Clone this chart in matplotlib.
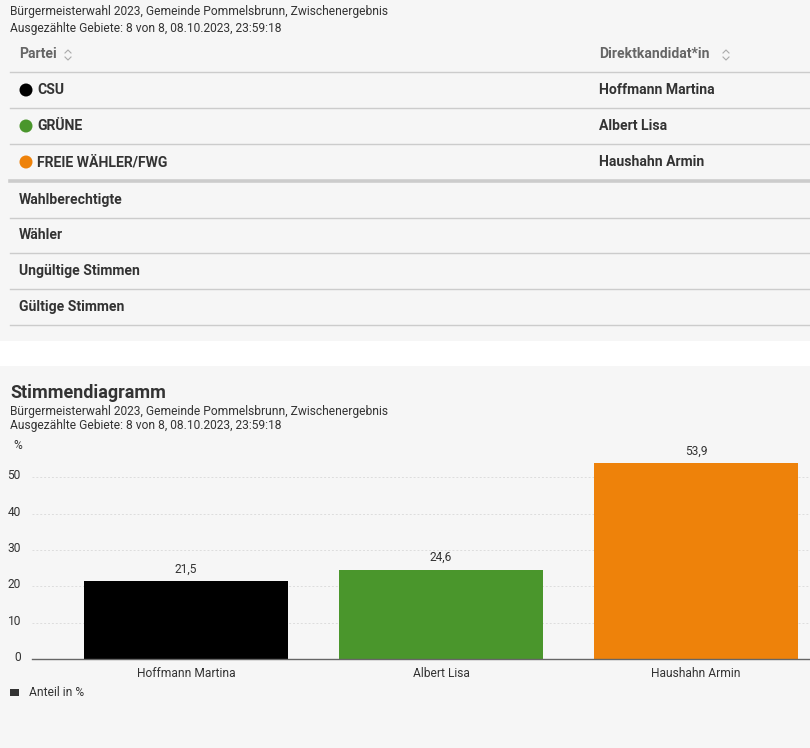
import matplotlib
matplotlib.use("Agg")
import matplotlib.pyplot as plt
from matplotlib.patches import Rectangle, Circle
from matplotlib.transforms import ScaledTranslation

plt.rcParams['font.family'] = ['Roboto', 'DejaVu Sans']

W, H = 810, 748

# Daten
parteien = ["CSU", "GRÜNE", "FREIE WÄHLER/FWG"]
kandidaten = ["Hoffmann Martina", "Albert Lisa", "Haushahn Armin"]
anteile = [21.5, 24.6, 53.9]
farben = ["#000000", "#4a962c", "#ee820a"]
kennzahlen = ["Wahlberechtigte", "Wähler", "Ungültige Stimmen", "Gültige Stimmen"]
yticks = [0, 10, 20, 30, 40, 50]

titel = "Stimmendiagramm"
untertitel1 = "Bürgermeisterwahl 2023, Gemeinde Pommelsbrunn, Zwischenergebnis"
untertitel2 = "Ausgezählte Gebiete: 8 von 8, 08.10.2023, 23:59:18"

BG = "#f6f6f6"
TXT = "#333333"
GRAU = "#666666"
LINIE = "#cccccc"

fig = plt.figure(figsize=(W / 100, H / 100), dpi=100, facecolor=BG)

# Hintergrund-Ebene in Pixelkoordinaten
bg = fig.add_axes([0, 0, 1, 1], zorder=0)
bg.set_xlim(0, W)
bg.set_ylim(H, 0)
bg.axis('off')
bg.add_patch(Rectangle((0, 341), W, 25, color="white", lw=0))

px = 0.72  # pt pro Pixel
fb = 14 * px  # fette Tabellenschrift

# --- Tabelle ---
bg.text(10, 11, untertitel1, fontsize=12 * px, color=TXT, va='center')
bg.text(10, 28, untertitel2, fontsize=12 * px, color=TXT, va='center')


def sortier_icon(x, y):
    bg.plot([x - 3, x, x + 3], [y - 2, y - 5, y - 2], color="#aaaaaa", lw=0.8)
    bg.plot([x - 3, x, x + 3], [y + 2, y + 5, y + 2], color="#aaaaaa", lw=0.8)


bg.text(19, 54, "Partei", fontsize=fb, color=GRAU, weight='bold', va='center')
sortier_icon(68, 55)
bg.text(599, 54, "Direktkandidat*in", fontsize=fb, color=GRAU, weight='bold', va='center')
sortier_icon(726, 55)

zeilen_y = [90, 126, 162]
for y, p, k, c in zip(zeilen_y, parteien, kandidaten, farben):
    bg.add_patch(Circle((26, y), 6.5, color=c, lw=0))
    bg.text(37, y, p, fontsize=fb, color=TXT, weight='bold', va='center')
    bg.text(599, y, k, fontsize=fb, color=TXT, weight='bold', va='center')

for y in [72, 108, 144, 218, 253, 289, 325]:
    bg.plot([10, W], [y, y], color=LINIE, lw=1.0)
bg.plot([10, W], [181, 181], color=LINIE, lw=2.6)

for y, k in zip([200, 235, 271, 307], kennzahlen):
    bg.text(19, y, k, fontsize=fb, color=TXT, weight='bold', va='center')

# --- Diagramm-Kopf ---
bg.text(10, 393, titel, fontsize=18 * px, color=TXT, weight='bold', va='center')
bg.text(10, 411, untertitel1, fontsize=12 * px, color=TXT, va='center')
bg.text(10, 425, untertitel2, fontsize=12 * px, color=TXT, va='center')
bg.text(13, 445, "%", fontsize=12 * px, color=TXT, va='center')

# Legende
bg.add_patch(Rectangle((10, 689), 9, 7, color="#333333", lw=0))
bg.text(29, 692, "Anteil in %", fontsize=12 * px, color=TXT, va='center')

# --- Balken ---
x0, y0, y1 = 32, 659, 441
ax = fig.add_axes([x0 / W, 1 - y0 / H, (W - x0) / W, (y0 - y1) / H], zorder=1)
ax.patch.set_alpha(0)
pos = list(range(len(kandidaten)))
bars = ax.bar(pos, anteile, width=0.8, color=farben, zorder=2)
ax.set_xlim(-0.604, 2.447)
ax.set_ylim(0, 60)
ax.set_yticks(yticks)
ax.set_xticks(pos)
ax.set_xticklabels(kandidaten)
for s in ['top', 'right', 'left']:
    ax.spines[s].set_visible(False)
ax.spines['bottom'].set_color(GRAU)
ax.spines['bottom'].set_linewidth(1.0)
ax.tick_params(axis='both', length=0, colors=TXT, labelsize=12 * px)
ax.tick_params(axis='y', pad=8)
ax.tick_params(axis='x', pad=6)
# y-Beschriftung etwas oberhalb der Gitterlinien
for lbl in ax.get_yticklabels():
    lbl.set_transform(lbl.get_transform() + ScaledTranslation(0, 3 / 100, fig.dpi_scale_trans))
ax.yaxis.grid(True, color="#dddddd", linestyle=(0, (2, 2)), lw=0.7, zorder=0)
ax.set_axisbelow(True)
for b, v in zip(bars, anteile):
    ax.annotate(f"{v:.1f}".replace(".", ","), (b.get_x() + b.get_width() / 2, v),
                xytext=(0, 4), textcoords='offset points', ha='center', va='bottom',
                fontsize=12 * px, color=TXT)

fig.savefig("out.png", dpi=100, facecolor=BG)
